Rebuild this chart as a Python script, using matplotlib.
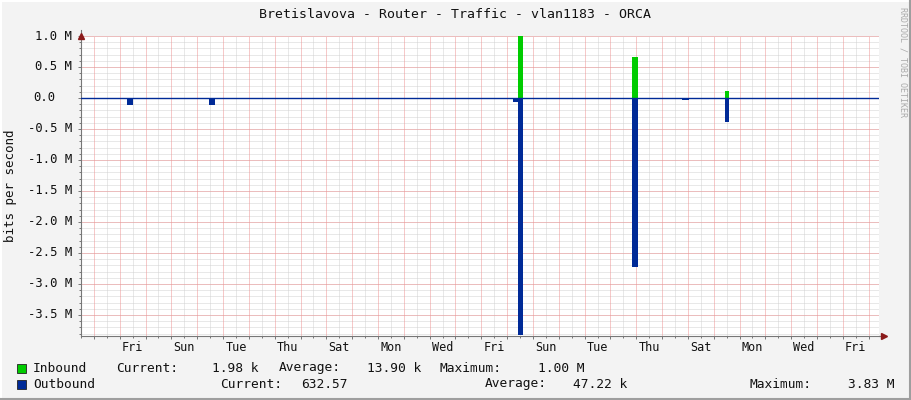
import matplotlib
matplotlib.use('Agg')
import matplotlib.pyplot as plt
from matplotlib.patches import Rectangle
from matplotlib.lines import Line2D

# chart texts
title = 'Bretislavova - Router - Traffic - vlan1183 - ORCA'
ylabel = 'bits per second'
side_text = 'RRDTOOL / TOBI OETIKER'

# x axis: days, 0 = midnight Thursday/Friday of first week
x_start, x_end = -0.41, 30.40
day_names = ['Fri', 'Sun', 'Tue', 'Thu', 'Sat', 'Mon', 'Wed', 'Fri',
             'Sun', 'Tue', 'Thu', 'Sat', 'Mon', 'Wed', 'Fri']
label_days = [1.5 + 2 * i for i in range(len(day_names))]

# traffic bursts (days, Mbit/s)
spike_start = [1.30, 4.45, 16.23, 16.44, 20.82, 22.79, 24.42]
spike_end   = [1.51, 4.68, 16.44, 16.63, 21.06, 23.06, 24.61]
inbound_M   = [0.00, 0.00, 0.00, 1.00, 0.66, 0.00, 0.11]
outbound_M  = [0.11, 0.11, 0.06, 3.83, 2.73, 0.03, 0.38]

# legend values
in_stats = ['1.98 k', '13.90 k', '1.00 M']
out_stats = ['632.57', '47.22 k', '3.83 M']

y_ticks_M = [1.0, 0.5, 0.0, -0.5, -1.0, -1.5, -2.0, -2.5, -3.0, -3.5]

GREEN = '#00CC00'
BLUE = '#002A97'
TXT = '#111111'
W, H = 911, 400
mono = 'DejaVu Sans Mono'

plt.rcParams['font.family'] = mono

fig = plt.figure(figsize=(W / 100, H / 100), dpi=100, facecolor='#F3F3F3')
ax = fig.add_axes([81 / W, 1 - 336 / H, (879 - 81) / W, 300 / H])
ax.set_facecolor('white')

# dotted grid
gkw = dict(lw=0.72, ls=(0, (1, 1)))
for d in range(0, 31):
    ax.axvline(d - 0.5, color='#D2D2D2', zorder=0, **gkw)
for k in range(-38, 11):
    ax.axhline(k * 0.1e6, color='#D2D2D2', zorder=0, **gkw)
for d in range(0, 31):
    ax.axvline(d, color='#EE9494', zorder=0.5, **gkw)
for v in y_ticks_M:
    ax.axhline(v * 1e6, color='#EE9494', zorder=0.5, **gkw)

widths = [e - s for s, e in zip(spike_start, spike_end)]
ax.bar(spike_start, [v * 1e6 for v in inbound_M], width=widths, align='edge',
       color=GREEN, lw=0, zorder=2)
ax.bar(spike_start, [-v * 1e6 for v in outbound_M], width=widths, align='edge',
       color=BLUE, lw=0, zorder=2)
ax.axhline(0, color=BLUE, lw=1.0, zorder=3)

ax.set_xlim(x_start, x_end)
ax.set_ylim(-outbound_M[3] * 1e6 - 0.01e6, 1.0e6)

for s in ['top', 'right']:
    ax.spines[s].set_visible(False)
for s in ['left', 'bottom']:
    ax.spines[s].set_color('#777777')
    ax.spines[s].set_linewidth(0.8)

ax.set_xticks(range(0, 31))
ax.set_xticklabels([])
ax.set_xticks([d - 0.5 for d in range(0, 31)], minor=True)
ax.set_yticks([v * 1e6 for v in y_ticks_M])
ax.set_yticklabels([])
ax.set_yticks([k * 0.1e6 for k in range(-38, 11)], minor=True)
ax.tick_params(which='major', length=2.5, width=0.7, color='#777777', direction='out')
ax.tick_params(which='minor', length=1.5, width=0.7, color='#777777', direction='out')

for d, name in zip(label_days, day_names):
    ax.annotate(name, xy=(d, 0), xycoords=('data', 'axes fraction'),
                xytext=(0, -5), textcoords='offset pixels',
                ha='center', va='top', fontsize=8.5, color=TXT)

for v in y_ticks_M:
    if v == 0:
        txt, off = '0.0', -26
    else:
        txt, off = '%.1f M' % v, -9
    ax.annotate(txt, xy=(0, v * 1e6), xycoords=('axes fraction', 'data'),
                xytext=(off, 0), textcoords='offset pixels',
                ha='right', va='center', fontsize=8.8, color=TXT)

# axis arrows
ax.plot([0], [1.0], marker='^', ms=4, color='#8B1A1A', transform=ax.transAxes,
        clip_on=False, zorder=5)
ax.plot([1.0065], [0], marker='>', ms=4, color='#8B1A1A', transform=ax.transAxes,
        clip_on=False, zorder=5)
ax.plot([0, 0], [1.0, 1.02], color='#777777', lw=0.8, transform=ax.transAxes, clip_on=False)
ax.plot([1.0, 1.006], [0, 0], color='#777777', lw=0.8, transform=ax.transAxes, clip_on=False)

def fx(x):
    return x / W

def fy(y):
    return 1 - y / H

fig.text(fx(455), fy(14), title, ha='center', va='center', fontsize=9.5, color=TXT)
fig.text(fx(11), fy(186), ylabel, rotation=90, ha='center', va='center',
         fontsize=9, color=TXT)
fig.text(fx(903), fy(7), side_text, rotation=270, ha='center', va='top',
         fontsize=6, color='#AAAAAA')

# legend
for yy, col in [(368, GREEN), (384, BLUE)]:
    fig.patches.append(Rectangle((fx(17), fy(yy + 5)), 9 / W, 9 / H,
                                 transform=fig.transFigure, facecolor=col,
                                 edgecolor='#222222', lw=0.6))

def leg(x, y, s, ha='left'):
    fig.text(fx(x), fy(y), s, ha=ha, va='center', fontsize=9.3, color=TXT)

leg(33, 368, 'Inbound')
leg(116, 368, 'Current:')
leg(259, 368, in_stats[0], 'right')
leg(279, 368, 'Average:')
leg(421, 368, in_stats[1], 'right')
leg(440, 368, 'Maximum:')
leg(584, 368, in_stats[2], 'right')

leg(33, 384, 'Outbound')
leg(220, 384, 'Current:')
leg(348, 384, out_stats[0], 'right')
leg(485, 384, 'Average:')
leg(627, 384, out_stats[1], 'right')
leg(750, 384, 'Maximum:')
leg(894, 384, out_stats[2], 'right')

# 3D frame of the image
fig.lines.append(Line2D([0, 1], [1 - 1 / H] * 2, transform=fig.transFigure, color='white', lw=1.5))
fig.lines.append(Line2D([0.5 / W] * 2, [0, 1], transform=fig.transFigure, color='white', lw=1.5))
fig.lines.append(Line2D([0, 1], [1 / H] * 2, transform=fig.transFigure, color='#9E9E9E', lw=1.5))
fig.lines.append(Line2D([1 - 1 / W] * 2, [0, 1], transform=fig.transFigure, color='#9E9E9E', lw=1.5))

fig.savefig('out.png', dpi=100, facecolor=fig.get_facecolor())
